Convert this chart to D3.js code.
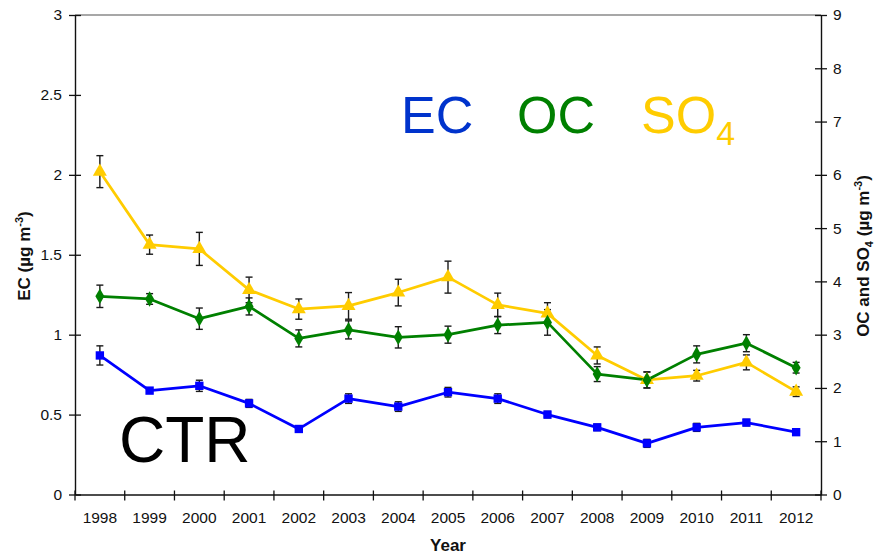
<!DOCTYPE html>
<html>
<head>
<meta charset="utf-8">
<script src="https://cdn.jsdelivr.net/npm/d3@7"></script>
<style>
  html, body { margin: 0; padding: 0; background: #fff; }
  svg text { font-family: "Liberation Sans", Arial, sans-serif; }
</style>
</head>
<body>
<svg id="chart" width="874" height="556"></svg>
<script>
// Annual mean concentrations at CTR, 1998-2012
const years = ["1998","1999","2000","2001","2002","2003","2004","2005","2006","2007","2008","2009","2010","2011","2012"];
// EC (left axis, µg m-3)
const ec    = [0.87, 0.65, 0.68, 0.57, 0.41, 0.60, 0.55, 0.64, 0.60, 0.50, 0.42, 0.32, 0.42, 0.45, 0.39];
const ecErr = [0.06, 0.015, 0.035, 0.025, 0.012, 0.03, 0.03, 0.03, 0.03, 0.02, 0.02, 0.025, 0.025, 0.02, 0.01];
// OC and SO4 (right axis, µg m-3)
const oc     = [3.72, 3.67, 3.30, 3.53, 2.93, 3.09, 2.95, 3.00, 3.18, 3.23, 2.26, 2.15, 2.63, 2.84, 2.38];
const ocErr  = [0.21, 0.10, 0.20, 0.16, 0.16, 0.17, 0.20, 0.16, 0.16, 0.24, 0.14, 0.15, 0.16, 0.16, 0.10];
const so4    = [6.06, 4.69, 4.61, 3.84, 3.48, 3.54, 3.79, 4.08, 3.56, 3.40, 2.61, 2.15, 2.23, 2.48, 1.93];
const so4Err = [0.30, 0.18, 0.31, 0.24, 0.19, 0.25, 0.25, 0.30, 0.22, 0.20, 0.16, 0.15, 0.10, 0.14, 0.09];
const leftTicks  = [0, 0.5, 1, 1.5, 2, 2.5, 3];
const rightTicks = [0, 1, 2, 3, 4, 5, 6, 7, 8, 9];

const svg = d3.select("#chart");
const L = 75, R = 821, T = 15, B = 494.5;

const x  = d3.scaleBand().domain(years).range([L, R]).paddingInner(0).paddingOuter(0);
const yL = d3.scaleLinear().domain([0, 3]).range([B, T]);
const yR = d3.scaleLinear().domain([0, 9]).range([B, T]);
const cx = d => x(d) + x.bandwidth() / 2;

// top frame line
svg.append("line").attr("x1", L).attr("x2", R).attr("y1", T).attr("y2", T)
  .attr("stroke", "#8a8a8a").attr("stroke-width", 1.3);

// left axis
const gL = svg.append("g").attr("transform", `translate(${L},0)`)
  .call(d3.axisLeft(yL).tickValues(leftTicks).tickFormat(d => d).tickSizeOuter(0));
gL.selectAll(".tick line").attr("x1", 6).attr("x2", -6);
gL.selectAll(".tick text").attr("x", -13);

// right axis
const gR = svg.append("g").attr("transform", `translate(${R},0)`)
  .call(d3.axisRight(yR).tickValues(rightTicks).tickFormat(d => d).tickSizeOuter(0));
gR.selectAll(".tick line").attr("x1", -6).attr("x2", 6);
gR.selectAll(".tick text").attr("x", 12);

// bottom axis: labels centred in each year, ticks at year boundaries
const gB = svg.append("g").attr("transform", `translate(0,${B})`)
  .call(d3.axisBottom(x).tickSize(0).tickSizeOuter(0));
gB.selectAll(".tick text").attr("y", 17);
const edges = years.map(d => x(d)).concat([R]);
gB.selectAll("line.edge").data(edges).enter().append("line").attr("class", "edge")
  .attr("x1", d => d).attr("x2", d => d).attr("y1", -4).attr("y2", 6);

[gL, gR, gB].forEach(g => {
  g.selectAll("path.domain").attr("stroke", "#111").attr("stroke-width", 1.4);
  g.selectAll("line").attr("stroke", "#111").attr("stroke-width", 1.3);
  g.selectAll("text").attr("font-size", 15.5).attr("fill", "#111")
    .attr("font-family", "Liberation Sans, Arial, sans-serif");
});

// axis titles
svg.append("text").attr("x", 448).attr("y", 551).attr("text-anchor", "middle")
  .attr("font-size", 17).attr("font-weight", "bold").attr("fill", "#111").text("Year");

const tl = svg.append("text").attr("transform", "translate(30,256) rotate(-90)")
  .attr("text-anchor", "middle").attr("font-size", 17).attr("font-weight", "bold").attr("fill", "#111");
tl.append("tspan").text("EC (µg m");
tl.append("tspan").attr("font-size", 11).attr("dy", -7).text("-3");
tl.append("tspan").attr("dy", 7).text(")");

const tr = svg.append("text").attr("transform", "translate(869,256) rotate(-90)")
  .attr("text-anchor", "middle").attr("font-size", 17).attr("font-weight", "bold").attr("fill", "#111");
tr.append("tspan").text("OC and SO");
tr.append("tspan").attr("font-size", 11).attr("dy", 4).text("4");
tr.append("tspan").attr("dy", -4).text(" (µg m");
tr.append("tspan").attr("font-size", 11).attr("dy", -7).text("-3");
tr.append("tspan").attr("dy", 7).text(")");

// series
const series = [
  { vals: so4, err: so4Err, y: yR, color: "#FFCC00", shape: d3.symbolTriangle, size: 85 },
  { vals: oc,  err: ocErr,  y: yR, color: "#008000", shape: d3.symbolDiamond,  size: 70 },
  { vals: ec,  err: ecErr,  y: yL, color: "#0000FF", shape: d3.symbolSquare,   size: 70 }
];

series.forEach(s => {
  const pts = years.map((yr, i) => ({ yr, v: s.vals[i], e: s.err[i] }));
  svg.append("path").datum(pts)
    .attr("fill", "none").attr("stroke", s.color).attr("stroke-width", 2.7)
    .attr("stroke-linejoin", "round")
    .attr("d", d3.line().x(d => cx(d.yr)).y(d => s.y(d.v)));
});

series.forEach(s => {
  const pts = years.map((yr, i) => ({ yr, v: s.vals[i], e: s.err[i] }));
  const eb = svg.append("g").attr("stroke", "#1a1a1a").attr("stroke-width", 1.4);
  pts.forEach(d => {
    const xc = cx(d.yr), y1 = s.y(d.v + d.e), y2 = s.y(d.v - d.e);
    eb.append("line").attr("x1", xc).attr("x2", xc).attr("y1", y1).attr("y2", y2);
    eb.append("line").attr("x1", xc - 3.5).attr("x2", xc + 3.5).attr("y1", y1).attr("y2", y1);
    eb.append("line").attr("x1", xc - 3.5).attr("x2", xc + 3.5).attr("y1", y2).attr("y2", y2);
  });
});

series.forEach(s => {
  const pts = years.map((yr, i) => ({ yr, v: s.vals[i] }));
  svg.append("g").selectAll("path").data(pts).enter().append("path")
    .attr("d", d3.symbol().type(s.shape).size(s.size))
    .attr("transform", d => `translate(${cx(d.yr)},${s.y(d.v)})`)
    .attr("fill", s.color);
});

// in-plot labels
svg.append("text").attr("x", 401).attr("y", 133).attr("font-size", 52).attr("fill", "#0033CC").text("EC");
svg.append("text").attr("x", 517).attr("y", 133).attr("font-size", 52).attr("fill", "#008000").text("OC");
const so = svg.append("text").attr("x", 641).attr("y", 133).attr("font-size", 52).attr("fill", "#FFCC00");
so.append("tspan").text("SO");
so.append("tspan").attr("font-size", 34).attr("dy", 12).text("4");

svg.append("text").attr("x", 119).attr("y", 462).attr("font-size", 64).attr("fill", "#000").text("CTR");
</script>
</body>
</html>
